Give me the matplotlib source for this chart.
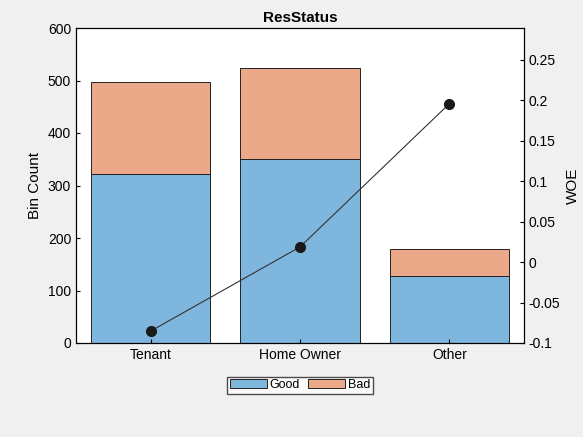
import matplotlib
matplotlib.use("Agg")
import matplotlib.pyplot as plt
import numpy as np

categories = ["Tenant", "Home Owner", "Other"]
good = [322, 350, 127]
bad = [176, 173, 53]
woe = [-0.0853, 0.0186, 0.1955]

plt.rcParams['font.family'] = ['Liberation Sans', 'DejaVu Sans']
fig = plt.figure(figsize=(5.83, 4.37), dpi=100, facecolor='#f0f0f0')
W, H = 583, 437
ax = fig.add_axes([76/W, 1-343/H, 448/W, 315/H])
x = np.arange(1, len(categories)+1)
b1 = ax.bar(x, good, 0.8, color='#7eb6de', edgecolor='#222222', linewidth=0.7, label='Good')
b2 = ax.bar(x, bad, 0.8, bottom=good, color='#eca98a', edgecolor='#222222', linewidth=0.7, label='Bad')
ax.set_xlim(0.5, 3.5)
ax.set_ylim(0, 600)
ax.set_xticks(x)
ax.set_xticklabels(categories)
ax.set_ylabel('Bin Count', fontsize=11)
ax.set_title('ResStatus', fontsize=11, fontweight='bold', pad=4)
ax.tick_params(direction='in', labelsize=10, length=3)
ax2 = ax.twinx()
ax2.plot(x, woe, color='#333333', linewidth=0.8, marker='o', markersize=7, markerfacecolor='#1a1a1a', markeredgecolor='#1a1a1a')
ax2.set_ylim(-0.1, 0.289)
ax2.set_yticks([-0.1, -0.05, 0, 0.05, 0.1, 0.15, 0.2, 0.25])
ax2.set_yticklabels(['-0.1', '-0.05', '0', '0.05', '0.1', '0.15', '0.2', '0.25'])
ax2.set_ylabel('WOE', fontsize=11)
ax2.tick_params(direction='in', labelsize=10, length=3)
fig.legend(handles=[b1, b2], labels=['Good', 'Bad'], loc='center', bbox_to_anchor=(300/W, 1-385/H),
           ncol=2, fontsize=9, frameon=True, fancybox=False, edgecolor='#222222',
           handlelength=3, handletextpad=0.2, columnspacing=0.6, borderpad=0.2, borderaxespad=0)
fig.savefig('out.png', dpi=100, facecolor=fig.get_facecolor())
